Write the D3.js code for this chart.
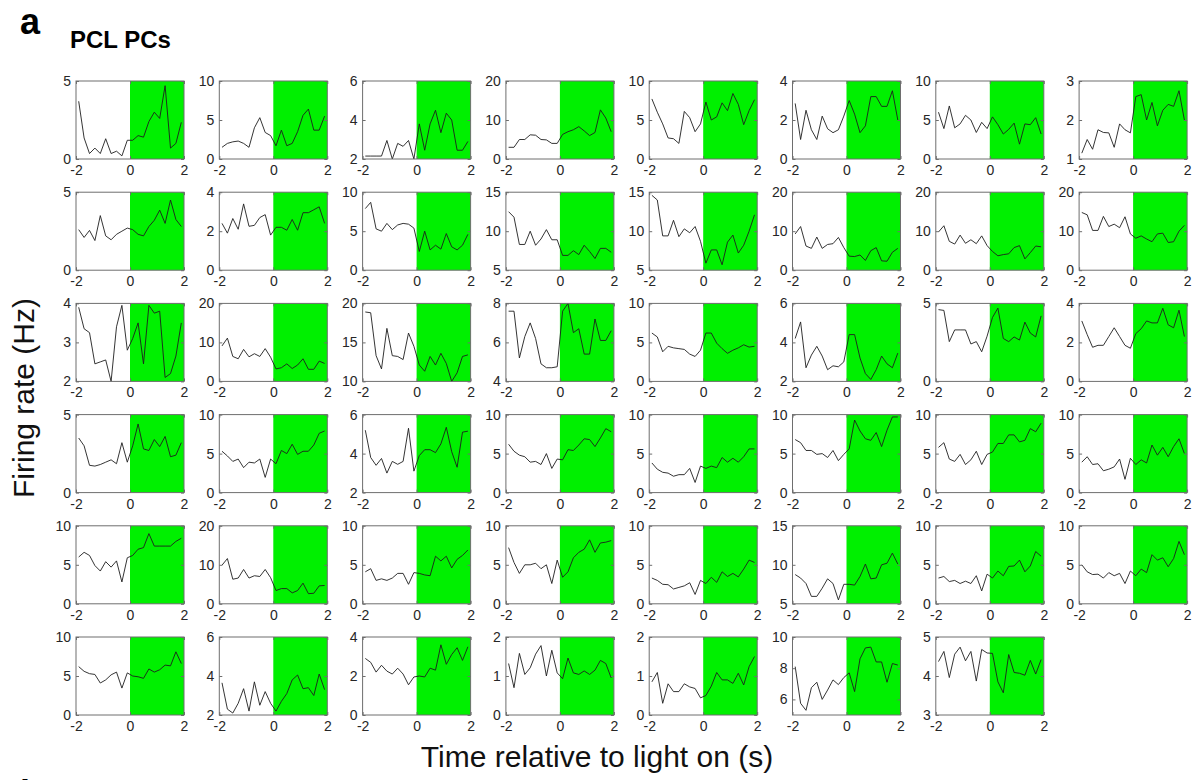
<!DOCTYPE html>
<html>
<head>
<meta charset="utf-8">
<script src="https://cdn.jsdelivr.net/npm/d3@7"></script>
<style>
  body { margin: 0; background: #fff; }
  svg { display: block; font-family: "Liberation Sans", Arial, sans-serif; }
</style>
</head>
<body>
<svg width="1196" height="780"></svg>
<script>
// time bin centres (s) and x tick labels
var timeBins = [-1.9, -1.7, -1.5, -1.3, -1.1, -0.9, -0.7, -0.5, -0.3, -0.1,
                0.1, 0.3, 0.5, 0.7, 0.9, 1.1, 1.3, 1.5, 1.7, 1.9];
var xTicks = [-2, 0, 2];
var lightOn = [0, 2];

// firing rate (Hz) of each PCL PC, one array per cell
var rates = [
  [3.7,1.35,0.35,0.7,0.35,1.3,0.35,0.5,0.2,1.2, 1.2,1.5,1.4,2.4,3.0,2.6,4.7,0.7,1.0,2.35],
  [1.5,2.0,2.2,2.3,2.0,1.5,4.0,5.3,3.4,3.0, 1.7,3.7,1.7,2.0,3.5,5.6,6.4,3.7,3.7,5.5],
  [2.15,2.15,2.15,2.15,2.95,2.0,2.8,2.65,2.95,2.0, 3.8,2.45,3.8,4.5,3.35,4.35,4.0,2.45,2.45,2.9],
  [3,3,5,5,6.2,6.1,5,4.9,4,4, 6.3,7,7.5,8.3,7.2,6,6.8,12.6,10.5,7],
  [7.7,6.0,4.5,2.7,2.6,2.0,6.1,5.3,3.5,4.5, 7.3,5.0,5.4,7.2,6.2,8.4,7.0,4.4,6.2,7.6],
  [2.85,1.0,2.5,1.5,1.0,2.2,1.55,1.35,1.5,2.2, 3.0,2.3,1.35,1.7,3.2,3.2,2.7,2.7,3.5,2.0],
  [6.0,3.9,6.8,4.0,4.5,5.6,5.0,3.4,4.7,3.9, 5.4,4.4,3.2,3.8,4.6,1.9,4.5,4.4,5.3,3.2],
  [1.15,1.5,1.25,1.75,1.68,1.67,1.3,1.9,1.75,1.67, 2.6,2.65,2.0,2.45,1.85,2.25,2.4,2.35,2.75,2.0],

  [2.6,2.1,2.55,1.9,3.5,2.2,1.95,2.3,2.5,2.7, 2.6,2.3,2.2,2.8,3.2,3.85,3.0,4.5,3.25,2.8],
  [2.4,1.9,2.65,2.1,3.4,2.25,2.3,2.7,2.85,1.8, 2.2,2.2,2.05,2.6,2.05,2.95,2.95,3.1,3.25,2.4],
  [7.9,8.7,5.3,5.0,6.0,5.2,5.8,6.0,5.9,5.4, 2.4,5.0,2.6,3.2,2.7,4.7,3.0,2.6,3.2,4.6],
  [12.5,11.8,8.3,8.3,10.0,8.2,9.0,10.2,8.9,8.9, 6.9,6.9,7.5,7.0,8.2,7.4,6.5,7.8,7.8,7.3],
  [14.6,14.0,9.4,9.4,11.4,9.3,10.3,9.8,10.6,8.7, 5.9,7.6,7.6,5.7,8.6,9.5,7.2,8.2,10.0,12.1],
  [9.3,11.2,6.2,5.6,8.5,5.6,6.6,6.8,8.4,5.8, 3.6,3.5,3.9,2.5,5.0,5.8,2.4,2.3,4.6,5.6],
  [9.8,11.4,7.4,6.7,9.0,6.9,7.8,6.8,8.8,6.3, 4.8,3.7,4.0,4.2,5.8,6.3,2.9,4.5,6.2,6.0],
  [14.8,14.2,10.2,10.2,13.8,11.2,11.8,10.9,13.7,9.3, 8.2,8.8,8.0,7.3,9.3,9.5,7.1,7.3,10.0,11.5],

  [3.9,3.35,3.25,2.45,2.5,2.55,2.0,3.4,3.95,2.8, 3.1,3.5,2.45,3.95,3.75,3.8,2.1,2.2,2.65,3.5],
  [9.1,11.1,6.4,5.8,8.2,6.3,7.1,6.4,8.4,6.2, 3.2,3.5,4.5,3.3,4.2,5.8,3.1,3.1,5.2,4.6],
  [18.9,18.8,13.3,11.6,16.8,13.3,13.2,12.8,16.2,14.5, 12.1,11.3,13.2,12.1,13.6,12.3,10.0,11.1,13.2,13.4],
  [7.6,7.6,5.2,6.3,7.0,6.2,4.9,4.7,4.7,4.75, 7.6,8.0,6.5,6.7,5.4,5.4,7.2,6.1,6.1,6.6],
  [6.2,5.7,3.8,4.5,4.3,4.2,4.1,3.5,3.2,4.0, 6.2,6.2,4.9,4.2,3.6,4.0,4.3,4.7,4.4,4.5],
  [4.2,5.05,2.7,3.35,3.8,3.3,2.6,2.8,2.75,3.0, 4.4,4.4,3.2,2.4,2.1,2.6,3.3,2.9,2.7,3.45],
  [4.6,4.55,2.55,3.3,3.3,3.3,2.4,2.55,1.9,2.9, 4.1,4.7,2.75,2.55,2.85,2.65,3.8,3.1,2.85,4.2],
  [3.1,2.4,1.75,1.85,1.85,2.3,2.75,2.3,1.85,1.7, 2.45,2.7,3.1,3.0,3.0,3.75,2.9,2.75,3.65,2.3],

  [3.5,3.0,1.75,1.7,1.8,1.95,2.1,1.85,3.2,1.95, 3.0,4.4,2.8,2.7,3.4,2.95,3.6,2.3,2.4,3.2],
  [5.3,4.7,4.0,4.3,3.2,3.9,3.8,4.3,1.95,4.3, 3.7,5.4,5.0,6.2,4.9,5.3,5.3,6.1,7.6,7.9],
  [5.2,3.8,3.4,3.75,3.0,3.6,3.45,3.6,5.3,3.1, 3.9,4.2,4.2,4.05,4.5,5.35,4.1,3.3,5.1,5.15],
  [6.2,5.3,4.8,4.6,3.9,4.0,3.6,5.0,3.1,4.3, 4.2,5.5,5.4,6.1,6.9,6.8,5.9,7.0,8.2,7.8],
  [3.8,3.0,2.6,2.5,2.1,2.3,2.3,3.1,1.3,3.4, 3.1,3.4,3.2,4.5,3.9,4.4,3.9,4.6,5.6,5.6],
  [6.8,6.4,5.4,5.4,4.9,5.0,4.5,5.4,4.1,4.9, 5.6,9.3,7.9,6.9,6.7,7.7,5.9,8.0,9.7,9.7],
  [5.8,6.4,4.3,4.0,4.9,3.6,4.2,5.3,3.6,4.9, 5.2,6.3,6.3,7.4,7.4,6.5,6.7,8.2,7.8,8.9],
  [3.9,4.6,3.6,3.7,2.8,3.0,3.3,4.3,1.7,4.4, 3.6,4.2,3.8,6.1,4.8,5.8,4.6,5.9,6.9,5.0],

  [6.0,6.6,6.2,4.9,4.2,5.4,4.7,5.5,2.8,5.9, 6.2,7.0,7.2,9.0,7.4,7.4,7.4,7.4,8.0,8.4],
  [9.9,11.6,6.3,6.6,8.8,6.6,7.2,7.0,8.8,6.7, 3.4,3.9,3.9,2.8,3.4,5.3,2.6,2.7,4.6,4.7],
  [4.1,4.5,3.0,3.2,3.0,3.3,3.9,3.9,2.5,4.0, 3.9,3.7,3.6,6.1,5.5,6.1,4.6,5.7,6.2,6.9],
  [7.2,5.3,3.9,5.0,5.0,5.2,4.5,5.0,2.6,5.6, 3.4,4.1,5.9,6.6,7.0,8.2,6.6,7.8,7.9,8.1],
  [3.3,3.0,2.5,2.45,1.9,2.1,2.3,2.7,1.2,3.0, 2.6,3.4,2.75,4.1,3.5,3.9,3.45,4.45,5.6,5.3],
  [8.75,8.3,7.6,5.95,5.95,7.0,8.2,7.6,5.5,7.5, 7.5,7.4,8.5,10.1,8.2,8.3,10.0,10.2,11.5,10.1],
  [3.3,3.5,2.85,3.0,2.6,2.9,2.6,3.6,1.65,3.8, 3.3,4.2,3.6,4.8,4.85,5.6,4.1,4.85,6.7,6.1],
  [5.0,4.1,3.75,3.8,3.3,4.0,3.6,3.9,2.6,4.2, 3.6,4.45,4.0,6.3,5.6,5.9,4.75,5.8,8.0,6.3],

  [6.2,5.6,5.3,5.2,4.1,4.5,5.15,5.5,3.45,5.4, 5.0,4.9,4.7,5.9,5.5,5.8,6.4,6.3,8.1,6.6],
  [3.65,2.3,2.1,2.6,3.35,2.2,3.7,2.5,3.2,2.6, 2.2,2.7,3.1,3.8,4.05,3.35,3.4,3.0,4.1,3.3],
  [2.9,2.7,2.2,2.55,2.25,2.1,2.4,2.1,1.55,1.95, 2.0,1.95,2.4,2.3,3.6,2.6,3.1,3.45,2.8,3.5],
  [1.32,0.7,1.58,1.04,1.21,1.56,1.78,1.0,1.66,1.08, 0.93,1.46,1.08,1.04,1.13,1.04,1.15,1.4,1.32,0.95],
  [0.85,1.09,0.3,0.8,0.6,0.6,0.8,0.72,0.68,0.44, 0.5,0.74,1.09,0.9,0.9,0.81,1.07,0.77,1.24,1.5],
  [8.1,5.75,5.3,6.75,7.1,6.0,6.6,7.25,6.95,7.4, 7.7,6.5,8.6,9.3,9.35,8.4,8.4,7.1,8.3,8.2],
  [4.37,4.63,3.96,4.56,4.74,4.39,4.63,3.87,4.68,4.59, 4.58,3.85,3.57,4.55,4.09,4.07,4.02,4.4,4.05,4.42]
];

// y limits and y tick labels of each panel
var yLow  = [0,0,2,0,0,0,0,1, 0,0,0,5,5,0,0,0, 2,0,10,4,0,2,0,0, 0,0,2,0,0,0,0,0,
             0,0,0,0,0,5,0,0, 0,2,0,0,0,5,3];
var yHigh = [5,10,6,20,10,4,10,3, 5,4,10,15,15,20,20,20, 4,20,20,8,10,6,5,4, 5,10,6,10,10,10,10,10,
             10,20,10,10,10,15,10,10, 10,6,4,2,2,10,5];
var yTicks = [
  [0,5],[0,5,10],[2,4,6],[0,10,20],[0,5,10],[0,2,4],[0,5,10],[1,2,3],
  [0,5],[0,2,4],[0,5,10],[5,10,15],[5,10,15],[0,10,20],[0,10,20],[0,10,20],
  [2,3,4],[0,10,20],[10,15,20],[4,6,8],[0,5,10],[2,4,6],[0,5],[0,2,4],
  [0,5],[0,5,10],[2,4,6],[0,5,10],[0,5,10],[0,5,10],[0,5,10],[0,5,10],
  [0,5,10],[0,10,20],[0,5,10],[0,5,10],[0,5,10],[5,10,15],[0,5,10],[0,5,10],
  [0,5,10],[2,4,6],[0,2,4],[0,1,2],[0,1,2],[6,8,10],[3,4,5]
];

// grid layout
var nCols = 8;
var gridLeft = 76, colStep = 143.3, panelW = 108;
var gridTop = 81, rowStep = 111.2, panelH = 78;
var boxColor = '#6e6e6e';
var textColor = '#262626';

var svg = d3.select('svg');

svg.append('rect')
  .attr('width', 1196).attr('height', 780)
  .attr('fill', '#fff');

var xScale = d3.scaleLinear()
  .domain([xTicks[0], xTicks[xTicks.length - 1]])
  .range([0, panelW]);

var line = d3.line()
  .x((d, i) => xScale(timeBins[i]))
  .y(d => d.y);

rates.forEach((series, k) => {
  var col = k % nCols;
  var row = Math.floor(k / nCols);
  var g = svg.append('g')
    .attr('transform', 'translate(' + [gridLeft + col * colStep, gridTop + row * rowStep] + ')');

  var yScale = d3.scaleLinear()
    .domain([yLow[k], yHigh[k]])
    .range([panelH, 0]);

  // light on period
  g.append('rect')
    .attr('x', xScale(lightOn[0]))
    .attr('y', 0)
    .attr('width', xScale(lightOn[1]) - xScale(lightOn[0]))
    .attr('height', panelH)
    .attr('fill', '#00f000');

  // rate trace
  g.append('path')
    .datum(series.map(v => ({y: yScale(v)})))
    .attr('d', line)
    .attr('fill', 'none')
    .attr('stroke', '#1e1e1e')
    .attr('stroke-width', 0.9);

  // axes, ticks pointing in, plain hyphen for negatives
  var fmt = d => String(d);
  var xAxis = d3.axisBottom(xScale).tickValues(xTicks).tickFormat(fmt)
    .tickSizeInner(-3).tickSizeOuter(0).tickPadding(6);
  var xAxisTop = d3.axisTop(xScale).tickValues(xTicks).tickFormat('')
    .tickSizeInner(-3).tickSizeOuter(0);
  var yAxis = d3.axisLeft(yScale).tickValues(yTicks[k]).tickFormat(fmt)
    .tickSizeInner(-3).tickSizeOuter(0).tickPadding(5);
  var yAxisRight = d3.axisRight(yScale).tickValues(yTicks[k]).tickFormat('')
    .tickSizeInner(-3).tickSizeOuter(0);

  g.append('g').attr('transform', 'translate(0,' + panelH + ')').call(xAxis);
  g.append('g').call(xAxisTop);
  g.append('g').call(yAxis);
  g.append('g').attr('transform', 'translate(' + panelW + ',0)').call(yAxisRight);

  g.selectAll('.domain').remove();
  g.selectAll('.tick line').attr('stroke', boxColor);
  g.selectAll('.tick text')
    .attr('fill', textColor)
    .style('font-size', '14px')
    .style('font-family', '"Liberation Sans", Arial, sans-serif');

  // box
  g.append('rect')
    .attr('width', panelW).attr('height', panelH)
    .attr('fill', 'none')
    .attr('stroke', boxColor)
    .attr('stroke-width', 1);
});

// panel letter and title
svg.append('text')
  .attr('x', 20).attr('y', 34)
  .attr('font-size', 36).attr('font-weight', 'bold')
  .text('a');
svg.append('text')
  .attr('x', 70).attr('y', 48)
  .attr('font-size', 24).attr('font-weight', 'bold')
  .text('PCL PCs');
// next panel letter, cut off by the bottom edge
svg.append('text')
  .attr('x', 20).attr('y', 806)
  .attr('font-size', 36).attr('font-weight', 'bold')
  .text('b');

// shared axis titles
var gridBottom = gridTop + 5 * rowStep + panelH;
svg.append('text')
  .attr('x', 597).attr('y', 767)
  .attr('text-anchor', 'middle')
  .attr('font-size', 30)
  .attr('fill', '#111')
  .text('Time relative to light on (s)');
svg.append('text')
  .attr('transform', 'translate(' + [34, (gridTop + gridBottom) / 2] + ') rotate(-90)')
  .attr('text-anchor', 'middle')
  .attr('font-size', 30)
  .attr('fill', '#111')
  .text('Firing rate (Hz)');
</script>
</body>
</html>
